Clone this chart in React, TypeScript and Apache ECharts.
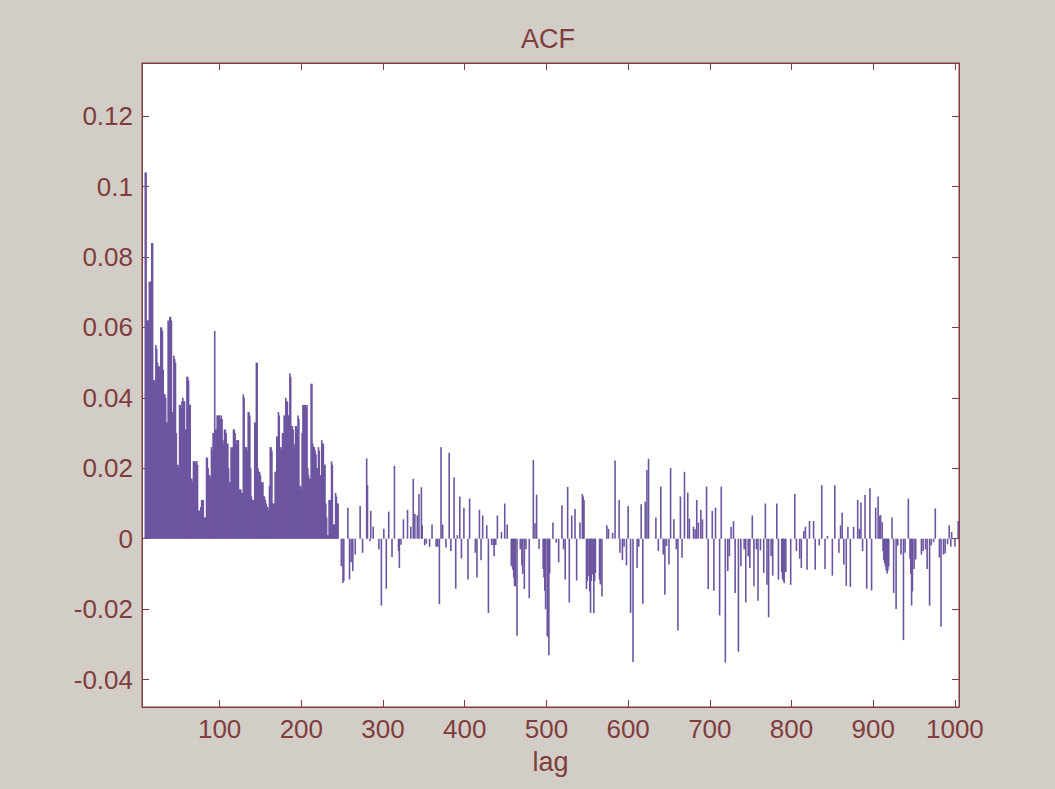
import React, { useEffect, useRef } from "react";
import * as echarts from "echarts";

// ACF values, contiguous lags starting at firstDenseLag
const firstDenseLag = 9;
const acfDense: number[] = [
  0.104, 0.104, 0.062, 0.062, 0.062, 0.073, 0.073, 0.073, 0.084, 0.084,
  0.045, 0.045, 0.044, 0.055, 0.054, 0.05, 0.049, 0.049, 0.048, 0.06,
  0.06, 0.059, 0.048, 0.041, 0.041, 0.04, 0.033, 0.033, 0.062, 0.061,
  0.063, 0.063, 0.062, 0.036, 0.035, 0.052, 0.051, 0.05, 0.03, 0.021,
  0.021, 0.02, 0.038, 0.038, 0.037, 0.039, 0.04, 0.039, 0.039, 0.031,
  0.031, 0.046, 0.046, 0.045, 0.038, 0.038, 0.017, 0.017, 0.016, 0.022,
  0.022, 0.021, 0.022, 0.022, 0.021, 0.008, 0.008, 0.007, 0.009, 0.011,
  0.011, 0.011, 0.006, 0.006, 0.006, 0.023, 0.023, 0.02, 0.018, 0.018,
  0.017, 0.026, 0.025, 0.03, 0.03, 0.059, 0.031, 0.031, 0.035, 0.035,
  0.035, 0.035, 0.034, 0.035, 0.034, 0.028, 0.027, 0.031, 0.031, 0.03,
  0.027, 0.027, 0.02, 0.016, 0.016, 0.026, 0.025, 0.026, 0.031, 0.031,
  0.03, 0.028, 0.027, 0.028, 0.028, 0.014, 0.014, 0.014, 0.013, 0.013,
  0.041, 0.04, 0.025, 0.026, 0.026, 0.025, 0.036, 0.036, 0.035, 0.02,
  0.012, 0.011, 0.011, 0.011, 0.033, 0.033, 0.05, 0.05, 0.02, 0.019,
  0.019, 0.018, 0.016, 0.016, 0.016, 0.012, 0.012, 0.011, 0.01, 0.009,
  0.009, 0.008, 0.015, 0.026, 0.026, 0.025, 0.01, 0.01, 0.01, 0.019,
  0.019, 0.029, 0.029, 0.036, 0.035, 0.026, 0.026, 0.025, 0.03, 0.03,
  0.035, 0.035, 0.04, 0.039, 0.039, 0.035, 0.035, 0.047, 0.046, 0.032,
  0.032, 0.031, 0.027, 0.026, 0.032, 0.032, 0.031, 0.035, 0.034, 0.015,
  0.015, 0.014, 0.03, 0.038, 0.038, 0.038, 0.038, 0.037, 0.038, 0.02,
  0.018, 0.017, 0.017, 0.044, 0.044, 0.027, 0.026, 0.026, 0.025, 0.024,
  0.02, 0.02, 0.026, 0.025, 0.018, 0.018, 0.028, 0.027, 0.027, 0.021,
  0.021, 0.01, 0.006, 0.001, 0.001, 0.011, 0.011, 0.011, 0.022, 0.021,
  0.004, 0.004, 0.004, 0.013, 0.012, 0.01, 0.01,
];

// [lag, acf] for the sparser lags (others ~0)
const acfLags249to504: [number, number][] = [
  [249, -0.0078], [251, -0.0126], [252, -0.012], [257, 0.0088], [259, -0.0116], [261, -0.0067],
  [263, -0.0092], [266, -0.0045], [272, 0.0093], [275, -0.004], [280, 0.0228], [281, 0.0152],
  [284, -0.0007], [285, 0.0079], [288, 0.0034], [295, -0.003], [298, -0.019], [301, 0.0028],
  [304, -0.0142], [307, 0.0077], [311, -0.0052], [314, 0.0207], [319, -0.0035], [320, -0.0083],
  [322, -0.0017], [325, 0.0055], [330, 0.0082], [334, 0.0034], [337, 0.017], [339, 0.007],
  [342, 0.0066], [344, 0.0127], [347, 0.0146], [348, 0.0038], [351, -0.0019], [353, -0.0014],
  [357, -0.0023], [360, 0.004], [365, -0.0023], [367, -0.0023], [369, -0.0186], [371, 0.026],
  [373, 0.004], [377, -0.0025], [381, 0.0244], [383, -0.0035], [387, 0.0174], [389, -0.0142],
  [391, 0.001], [394, 0.012], [396, -0.0056], [399, 0.0088], [404, -0.0116], [406, 0.0114],
  [413, -0.004], [415, -0.011], [418, 0.0082], [420, -0.0061], [422, 0.0066], [427, 0.0038],
  [429, -0.0211], [433, -0.0018], [435, -0.0018], [436, -0.005], [438, -0.0018], [440, 0.0066],
  [445, 0.0019], [449, 0.01], [452, 0.004], [457, -0.0076], [458, -0.008], [459, -0.0088],
  [460, -0.011], [461, -0.0135], [462, -0.0135], [464, -0.0276], [468, -0.003], [470, -0.0076],
  [471, -0.01], [473, -0.0143], [475, -0.003], [479, -0.0169], [484, 0.0224], [486, 0.0044],
  [488, 0.0125], [491, -0.0029], [496, -0.0086], [497, -0.011], [498, -0.0148], [499, -0.02],
  [501, -0.0276], [502, -0.028], [503, -0.0331], [504, -0.0099],
];

const acfLags505to750: [number, number][] = [
  [508, 0.0046], [512, -0.0011], [515, -0.0067], [519, 0.0095], [521, -0.003], [523, -0.0116],
  [526, 0.0147], [528, -0.0181], [531, 0.0066], [535, 0.0084], [537, -0.0119], [541, 0.0046],
  [544, 0.0127], [545, 0.012], [546, 0.011], [549, -0.0143], [550, -0.012], [551, -0.0107],
  [553, -0.015], [554, -0.0211], [555, -0.012], [556, -0.0102], [558, -0.0211], [559, -0.012],
  [560, -0.0097], [565, -0.0116], [566, -0.013], [568, -0.0164], [574, 0.0038], [576, 0.0028],
  [581, 0.0017], [584, 0.0222], [589, 0.011], [590, -0.004], [593, -0.0061], [595, -0.0023],
  [598, -0.0076], [600, 0.0093], [603, -0.0211], [606, -0.035], [611, -0.0083], [613, -0.0023],
  [616, 0.0098], [618, -0.0185], [621, 0.0105], [623, 0.0195], [625, 0.0227], [634, 0.006],
  [637, -0.0035], [640, 0.0148], [643, -0.0045], [645, -0.0159], [647, -0.0021], [650, -0.0073],
  [652, 0.0201], [656, 0.0055], [659, -0.003], [661, -0.0261], [664, 0.012], [666, -0.0054],
  [669, 0.019], [673, 0.0131], [675, 0.0057], [680, 0.0034], [682, 0.0027], [684, 0.011],
  [686, 0.0046], [689, 0.0082], [691, 0.0055], [696, 0.0148], [698, -0.0143], [703, 0.0079],
  [705, -0.0148], [707, 0.0088], [712, -0.0218], [714, 0.0148], [719, -0.0352], [722, -0.0092],
  [724, -0.005], [726, 0.0034], [729, 0.005], [731, -0.0154], [735, -0.0321], [738, -0.0078],
  [742, -0.003], [744, -0.0181], [747, -0.005], [749, -0.0083],
];

const acfLags751to1004: [number, number][] = [
  [752, 0.0066], [754, -0.0135], [757, -0.003], [759, -0.0176], [762, -0.0033], [766, -0.0097],
  [768, 0.01], [770, -0.0131], [772, -0.0223], [775, -0.005], [777, -0.0105], [782, 0.01],
  [784, -0.0116], [788, -0.0095], [789, -0.0114], [790, -0.012], [791, -0.0126], [793, -0.0095],
  [799, -0.0131], [804, 0.0127], [806, -0.0035], [810, -0.0057], [812, -0.0083], [815, 0.0022],
  [817, 0.0034], [819, -0.0088], [822, 0.005], [827, 0.005], [829, -0.0088], [834, -0.0019],
  [837, 0.0152], [841, -0.0086], [844, 0.0008], [850, -0.0105], [853, 0.0152], [858, -0.004],
  [860, 0.0038], [862, 0.0074], [864, -0.0073], [867, -0.0134], [869, 0.0034], [872, -0.0137],
  [876, 0.0034], [881, 0.011], [883, 0.0028], [885, 0.0103], [887, -0.0035], [890, 0.0124],
  [892, -0.0142], [896, 0.0143], [898, -0.0147], [903, 0.0088], [906, 0.012], [908, 0.0065],
  [909, 0.0067], [911, 0.0047], [912, -0.0035], [913, -0.0061], [914, -0.007], [915, -0.0079],
  [916, -0.009], [917, -0.0099], [918, -0.009], [919, -0.0079], [923, 0.006], [925, -0.0154],
  [928, -0.02], [930, -0.002], [934, -0.0045], [937, -0.0288], [939, -0.004], [943, 0.0114],
  [945, -0.0057], [946, -0.01], [947, -0.019], [948, -0.015], [950, -0.0086], [952, -0.0059],
  [959, -0.0045], [961, -0.0035], [964, -0.003], [966, -0.0086], [969, -0.019], [971, -0.0019],
  [974, -0.001], [976, 0.0086], [981, -0.0054], [983, -0.025], [986, -0.0045], [988, -0.0042],
  [991, -0.0016], [993, 0.0038], [995, -0.0023], [996, 0.0019], [1000, -0.0023], [1004, 0.005],
];

const xLimits = [5, 1005];
const yLimits = [-0.0478, 0.1351];
const xStep = 100;
const yStep = 0.02;

const AX = "#7f3d3d";
const BAR = "#6c55a0";
const BG = "#d3cdc7";
const FONT = '"Liberation Sans", Arial, sans-serif';

export default function App() {
  const ref = useRef<HTMLDivElement>(null);
  useEffect(() => {
    if (!ref.current) return;
    const chart = echarts.init(ref.current, undefined, { renderer: "svg" });
    const data: [number, number][] = [
      ...acfDense.map((v, i) => [firstDenseLag + i, v] as [number, number]),
      ...acfLags249to504,
      ...acfLags505to750,
      ...acfLags751to1004,
    ];
    const xCommon = {
      type: "value" as const,
      min: xLimits[0],
      max: xLimits[1],
      minInterval: xStep,
      maxInterval: xStep,
      splitNumber: 10,
      splitLine: { show: false },
      axisLine: { show: true, onZero: false, lineStyle: { color: AX, width: 1 } },
      axisTick: { show: true, inside: true, length: 7, lineStyle: { color: AX, width: 1 } },
    };
    const yCommon = {
      type: "value" as const,
      min: yLimits[0],
      max: yLimits[1],
      minInterval: yStep,
      maxInterval: yStep,
      splitNumber: 9,
      splitLine: { show: false },
      axisLine: { show: true, onZero: false, lineStyle: { color: AX, width: 1 } },
      axisTick: { show: true, inside: true, length: 7, lineStyle: { color: AX, width: 1 } },
    };
    chart.setOption({
      animation: false,
      backgroundColor: BG,
      textStyle: { fontFamily: FONT },
      grid: {
        left: 142,
        top: 63,
        width: 817,
        height: 644,
        show: true,
        backgroundColor: "#ffffff",
        borderColor: AX,
        borderWidth: 1,
      },
      graphic: [
        {
          type: "text",
          x: 548,
          y: 39,
          style: {
            text: "ACF",
            fill: AX,
            font: `27px ${FONT}`,
            align: "center",
            verticalAlign: "middle",
          },
        },
      ],
      xAxis: [
        {
          ...xCommon,
          position: "bottom",
          name: "lag",
          nameLocation: "middle",
          nameGap: 41,
          nameTextStyle: { color: AX, fontSize: 27, fontFamily: FONT },
          axisLabel: {
            color: AX,
            fontSize: 26,
            fontFamily: FONT,
            margin: 9,
            showMinLabel: false,
            showMaxLabel: false,
            formatter: (v: number) => String(Math.round(v)),
          },
        },
        {
          ...xCommon,
          position: "top",
          axisLabel: { show: false },
        },
      ],
      yAxis: [
        {
          ...yCommon,
          position: "left",
          axisLabel: {
            color: AX,
            fontSize: 26,
            fontFamily: FONT,
            margin: 9,
            padding: [4, 0, 0, 0],
            showMinLabel: false,
            showMaxLabel: false,
          },
        },
        {
          ...yCommon,
          position: "right",
          axisLabel: { show: false },
        },
      ],
      series: [
        {
          type: "bar",
          name: "ACF",
          xAxisIndex: 0,
          yAxisIndex: 0,
          data,
          barWidth: 1.6,
          itemStyle: { color: BAR },
          silent: true,
        },
      ],
    });
    return () => chart.dispose();
  }, []);
  return (
    <div
      ref={ref}
      style={{ position: "fixed", left: 0, top: 0, width: 1055, height: 789 }}
    />
  );
}
